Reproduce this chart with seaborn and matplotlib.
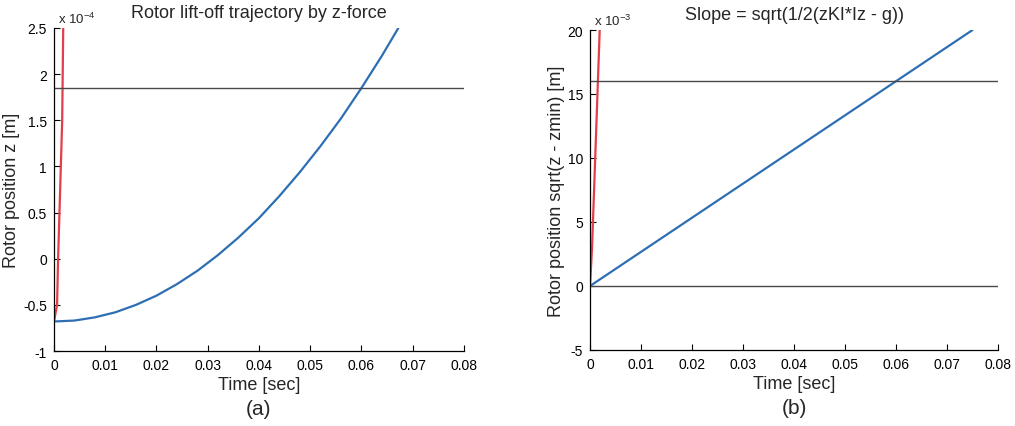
import numpy as np
import pandas as pd
import matplotlib
matplotlib.use("Agg")
import matplotlib.pyplot as plt
import seaborn as sns

# ---- data ----
# (a) rotor position z, in units of 1e-4 m
t_blue_a = [0.0, 0.004, 0.008, 0.012, 0.016, 0.020, 0.024, 0.028, 0.032, 0.036,
            0.040, 0.044, 0.048, 0.052, 0.056, 0.060, 0.064, 0.0672]
z_blue_a = [-0.68, -0.67, -0.635, -0.58, -0.50, -0.40, -0.275, -0.13, 0.04, 0.23,
            0.44, 0.68, 0.94, 1.22, 1.52, 1.85, 2.20, 2.50]
t_red_a = [0.0, 0.0006, 0.0008, 0.0012, 0.0016, 0.0018]
z_red_a = [-0.68, -0.5, 0.0, 0.75, 1.5, 2.5]
hline_a = [1.85]

# (b) sqrt(z - zmin), in units of 1e-3
t_blue_b = [0.0, 0.015, 0.03, 0.045, 0.06, 0.075]
s_blue_b = [0.0, 4.0, 8.0, 12.0, 16.0, 20.0]
t_red_b = [0.0, 0.0004, 0.0019]
s_red_b = [0.0, 3.0, 20.0]
hline_b = [0.0, 16.0]

titles = ["Rotor lift-off trajectory by z-force", "Slope = sqrt(1/2(zKI*Iz - g))"]
ylabels = ["Rotor position z [m]", "Rotor position sqrt(z - zmin) [m]"]
xlabel = "Time [sec]"
panel_labels = ["(a)", "(b)"]
multipliers = [r"x 10$^{-4}$", r"x 10$^{-3}$"]
xticks = [0, 0.01, 0.02, 0.03, 0.04, 0.05, 0.06, 0.07, 0.08]
xticklabels = ["0", "0.01", "0.02", "0.03", "0.04", "0.05", "0.06", "0.07", "0.08"]
yticks_a = [-1, -0.5, 0, 0.5, 1, 1.5, 2, 2.5]
yticklabels_a = ["-1", "-0.5", "0", "0.5", "1", "1.5", "2", "2.5"]
yticks_b = [-5, 0, 5, 10, 15, 20]
yticklabels_b = ["-5", "0", "5", "10", "15", "20"]

sns.set_style("ticks")
plt.rcParams["font.family"] = ["Liberation Sans", "DejaVu Sans"]
plt.rcParams["mathtext.fontset"] = "custom"
plt.rcParams["mathtext.rm"] = "Liberation Sans"
plt.rcParams["mathtext.it"] = "Liberation Sans"

BLUE = "#2e6fb4"
RED = "#e0404a"
GRAY = "#4a4a4a"

fig = plt.figure(figsize=(10.15, 4.27), dpi=100)
ax_a = fig.add_axes([0.0532, 0.1756, 0.4039, 0.7565])
ax_b = fig.add_axes([0.5813, 0.178, 0.4020, 0.7494])

df_a_blue = pd.DataFrame({"t": t_blue_a, "v": z_blue_a})
df_a_red = pd.DataFrame({"t": t_red_a, "v": z_red_a})
df_b_blue = pd.DataFrame({"t": t_blue_b, "v": s_blue_b})
df_b_red = pd.DataFrame({"t": t_red_b, "v": s_red_b})

sns.lineplot(data=df_a_blue, x="t", y="v", ax=ax_a, color=BLUE, lw=1.6, sort=False)
sns.lineplot(data=df_a_red, x="t", y="v", ax=ax_a, color=RED, lw=1.6, sort=False)
for h in hline_a:
    ax_a.axhline(h, color=GRAY, lw=1.0)

sns.lineplot(data=df_b_blue, x="t", y="v", ax=ax_b, color=BLUE, lw=1.6, sort=False)
sns.lineplot(data=df_b_red, x="t", y="v", ax=ax_b, color=RED, lw=1.6, sort=False)
for h in hline_b:
    ax_b.axhline(h, color=GRAY, lw=1.0)

ax_a.set_ylim(-1, 2.5)
ax_b.set_ylim(-5, 20)
ax_a.set_yticks(yticks_a)
ax_a.set_yticklabels(yticklabels_a)
ax_b.set_yticks(yticks_b)
ax_b.set_yticklabels(yticklabels_b)

for i, ax in enumerate([ax_a, ax_b]):
    ax.set_xlim(0, 0.08)
    ax.set_xticks(xticks)
    ax.set_xticklabels(xticklabels)
    ax.tick_params(direction="in", length=4, width=0.8, labelsize=10, colors="black", pad=5)
    for s in ["top", "right"]:
        ax.spines[s].set_visible(False)
    for s in ["left", "bottom"]:
        ax.spines[s].set_linewidth(0.9)
        ax.spines[s].set_color("black")
    ax.set_title(titles[i], fontsize=13, pad=8)
    ax.set_xlabel(xlabel, fontsize=13, labelpad=3)
    ax.set_ylabel(ylabels[i], fontsize=13, labelpad=2)
    ax.text(0.01, 1.005, multipliers[i], transform=ax.transAxes, fontsize=9.5,
            ha="left", va="bottom")
    ax.text(0.5, -0.15, panel_labels[i], transform=ax.transAxes, fontsize=15,
            ha="center", va="top")

fig.savefig("out.png", dpi=100)
